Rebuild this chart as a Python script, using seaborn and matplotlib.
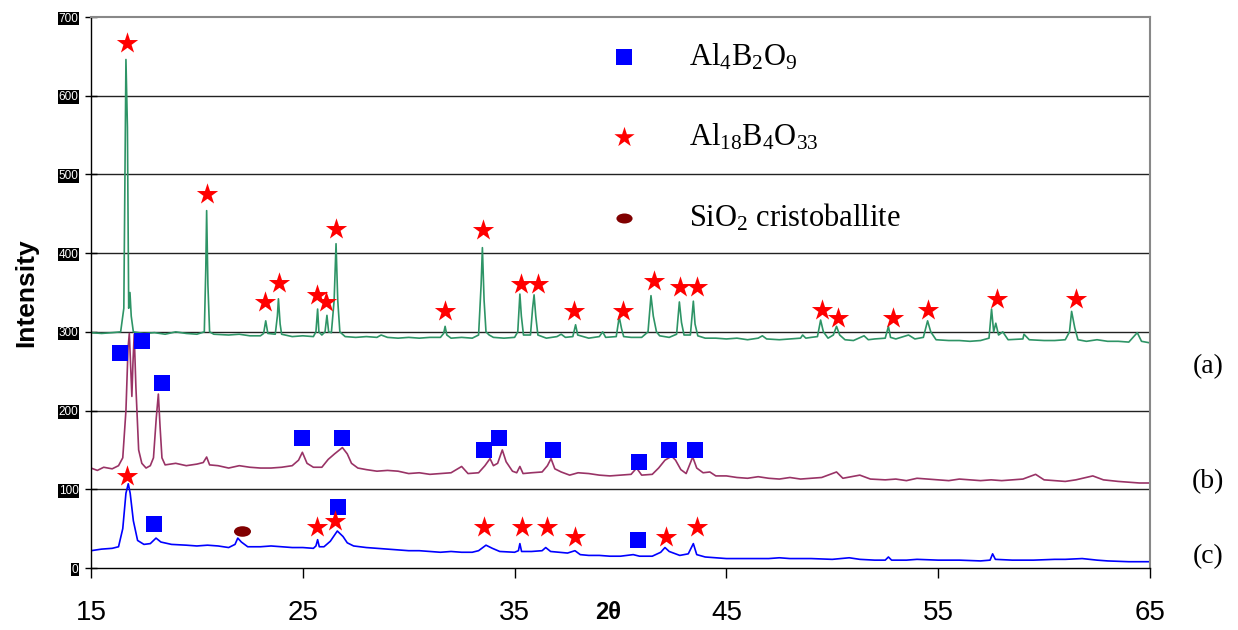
# XRD patterns (a), (b), (c) with phase markers
import matplotlib
matplotlib.use('Agg')
import matplotlib.pyplot as plt
import seaborn as sns
from matplotlib.path import Path
from matplotlib.transforms import Affine2D

sns.set_style('ticks')
plt.rcParams['font.family'] = ['Liberation Sans', 'DejaVu Sans']
plt.rcParams['text.color'] = 'black'
plt.rcParams['xtick.color'] = 'black'
plt.rcParams['ytick.color'] = 'black'
plt.rcParams['mathtext.fontset'] = 'custom'
plt.rcParams['mathtext.rm'] = 'Liberation Serif'
plt.rcParams['mathtext.it'] = 'Liberation Serif:italic'

# ---- trace (a), green ----
a_x = [15.0, 15.5, 16.0, 16.4, 16.55, 16.62, 16.65, 16.72, 16.78, 16.84, 16.9, 17.0, 17.5, 18.0, 18.5, 19.0, 19.5,
       20.0, 20.35, 20.42, 20.46, 20.52, 20.6, 20.8, 21.5, 22.0, 22.5, 23.0, 23.15, 23.25, 23.35, 23.7, 23.8, 23.85,
       23.93, 24.0, 24.5, 25.0, 25.5, 25.62, 25.7, 25.76, 25.9, 26.05, 26.14, 26.22, 26.35, 26.48, 26.57, 26.65, 26.75,
       27.0, 27.5, 28.0, 28.5, 28.7, 29.0, 29.5, 30.0, 30.5, 31.0, 31.5, 31.65, 31.72, 31.8, 32.0, 32.5, 33.0, 33.3,
       33.42, 33.48, 33.56, 33.65, 33.8, 34.0, 34.5, 35.0, 35.15, 35.25, 35.32, 35.42, 35.75, 35.85, 35.92, 36.0, 36.1,
       36.5, 37.0, 37.2, 37.4, 37.75, 37.88, 37.98, 38.5, 39.0, 39.16, 39.3, 39.8, 39.94, 40.05, 40.15, 40.5, 41.0,
       41.3, 41.44, 41.55, 41.7, 41.85, 42.3, 42.65, 42.78, 42.88, 43.0, 43.3, 43.44, 43.52, 43.65, 44.0, 44.5, 45.0,
       45.5, 46.0, 46.5, 46.7, 46.9, 47.5, 48.0, 48.5, 48.6, 48.75, 49.0, 49.3, 49.45, 49.58, 49.8, 50.05, 50.2, 50.35,
       50.6, 51.0, 51.5, 51.7, 52.0, 52.5, 52.65, 52.75, 53.0, 53.6, 53.9, 54.3, 54.5, 54.65, 54.9, 55.5, 56.0, 56.5,
       57.0, 57.4, 57.52, 57.62, 57.72, 57.85, 58.05, 58.3, 59.0, 59.05, 59.3, 60.0, 60.5, 61.0, 61.2, 61.3, 61.45,
       61.6, 62.0, 62.5, 63.0, 63.5, 64.0, 64.4, 64.6, 65.0]
a_y = [299, 298, 299, 300, 330, 560, 646, 560, 330, 350, 320, 300, 298, 299, 297, 300, 298,
       297, 300, 380, 454, 360, 300, 297, 296, 297, 295, 295, 298, 314, 298, 297, 320, 342,
       310, 297, 294, 295, 294, 300, 329, 300, 296, 300, 321, 300, 299, 340, 412, 340, 300,
       294, 293, 294, 293, 296, 293, 292, 293, 292, 293, 293, 298, 307, 296, 292, 293, 292, 296,
       360, 407, 340, 300, 296, 293, 292, 293, 300, 348, 320, 296, 296, 330, 347, 320, 296,
       292, 294, 297, 293, 294, 309, 296, 292, 294, 300, 293, 294, 319, 304, 294, 293, 293,
       300, 346, 320, 300, 295, 293, 297, 338, 312, 296, 296, 339, 310, 295, 292, 292, 291,
       292, 290, 292, 295, 291, 290, 291, 292, 296, 292, 293, 294, 315, 300, 292, 296, 307, 296,
       290, 289, 295, 290, 291, 292, 307, 293, 291, 296, 291, 293, 314, 300, 290, 289, 289, 288,
       289, 292, 329, 300, 311, 296, 300, 290, 291, 297, 290, 289, 289, 290, 300, 326, 305,
       290, 288, 290, 288, 288, 287, 299, 288, 286]

# ---- trace (b), maroon ----
b_x = [15.0, 15.3, 15.6, 16.0, 16.3, 16.5, 16.65, 16.75, 16.81, 16.88, 16.93, 16.98, 17.04, 17.12, 17.25, 17.4,
       17.6, 17.8, 17.95, 18.08, 18.18, 18.26, 18.35, 18.5, 19.0, 19.5, 20.0, 20.3, 20.46, 20.6, 21.0, 21.5, 22.0,
       22.5, 23.0, 23.5, 24.0, 24.5, 24.8, 24.98, 25.2, 25.5, 25.9, 26.2, 26.5, 26.87, 27.1, 27.3, 27.6, 28.0, 28.5,
       29.0, 29.5, 30.0, 30.5, 31.0, 31.5, 32.0, 32.5, 32.8, 33.3, 33.6, 33.84, 34.0, 34.2, 34.42, 34.6, 34.9, 35.1,
       35.25, 35.4, 35.8, 36.3, 36.55, 36.72, 36.9, 37.2, 37.6, 38.0, 38.5, 39.0, 39.5, 40.0, 40.5, 40.76, 41.0,
       41.5, 41.8, 42.1, 42.42, 42.6, 42.85, 43.1, 43.41, 43.6, 43.9, 44.22, 44.5, 45.0, 45.5, 46.0, 46.5, 47.0,
       47.5, 48.0, 48.5, 49.0, 49.5, 50.2, 50.5, 51.3, 51.8, 52.5, 53.0, 53.5, 54.0, 54.5, 55.0, 55.5, 56.0, 56.5,
       57.0, 57.5, 58.0, 58.5, 59.0, 59.6, 60.0, 60.5, 61.0, 61.5, 62.3, 62.8, 63.5, 64.0, 64.5, 65.0]
b_y = [127, 124, 128, 126, 130, 140, 200, 280, 298, 250, 218, 260, 297, 230, 150, 133,
       127, 130, 140, 190, 221, 180, 140, 131, 133, 130, 132, 134, 141, 131, 130, 127, 130,
       128, 127, 127, 128, 130, 137, 147, 133, 128, 128, 138, 145, 153, 145, 133, 127, 125, 123,
       124, 123, 120, 121, 119, 120, 121, 129, 120, 121, 130, 139, 130, 133, 150, 135, 123, 121,
       129, 120, 121, 122, 130, 139, 126, 122, 118, 121, 120, 118, 117, 118, 119, 127, 118,
       119, 127, 137, 142, 137, 125, 120, 141, 127, 121, 122, 117, 117, 115, 114, 116, 114,
       113, 115, 113, 114, 115, 122, 114, 118, 113, 112, 113, 111, 114, 113, 112, 111, 113, 112,
       111, 112, 111, 112, 113, 119, 112, 111, 110, 112, 117, 112, 110, 109, 108, 108]

# ---- trace (c), blue ----
c_x = [15.0, 15.5, 16.0, 16.3, 16.5, 16.65, 16.76, 16.85, 17.0, 17.2, 17.5, 17.8, 18.07, 18.3, 18.8, 19.5, 20.0,
       20.5, 21.0, 21.5, 21.8, 21.93, 22.1, 22.4, 23.0, 23.5, 24.0, 24.5, 25.0, 25.5, 25.62, 25.7, 25.78, 26.0, 26.3,
       26.63, 26.9, 27.1, 27.4, 28.0, 28.5, 29.0, 29.5, 30.0, 30.5, 31.0, 31.5, 32.0, 32.5, 33.0, 33.3, 33.65, 33.95,
       34.3, 35.0, 35.18, 35.25, 35.33, 35.8, 36.3, 36.47, 36.7, 37.5, 37.85, 38.1, 38.5, 39.0, 39.5, 40.0, 40.3,
       40.6, 40.9, 41.5, 41.9, 42.1, 42.3, 42.8, 43.2, 43.44, 43.6, 44.0, 44.5, 45.0, 46.0, 47.0, 47.5, 48.0, 49.0,
       50.0, 50.8, 51.3, 52.0, 52.5, 52.65, 52.8, 53.5, 54.0, 55.0, 56.0, 57.0, 57.45, 57.57, 57.7, 58.5, 59.5,
       60.5, 61.0, 61.8, 62.5, 63.0, 64.0, 65.0]
c_y = [22, 24, 25, 27, 50, 95, 107, 95, 60, 35, 30, 31, 38, 33, 30, 29, 28,
       29, 28, 26, 30, 38, 33, 27, 27, 28, 27, 26, 26, 25, 28, 36, 27, 27, 34,
       47, 40, 32, 28, 26, 25, 24, 23, 22, 22, 21, 20, 21, 20, 20, 22, 29, 25,
       21, 20, 22, 31, 21, 21, 22, 26, 21, 19, 22, 17, 16, 16, 15, 15, 16,
       17, 15, 15, 20, 26, 21, 16, 18, 31, 17, 14, 13, 12, 12, 12, 13, 12, 12,
       11, 13, 11, 10, 10, 14, 10, 10, 11, 10, 10, 9, 10, 18, 11, 10, 10,
       11, 11, 12, 10, 9, 8, 8]

# ---- phase markers ----
star_x = [16.71, 20.46, 23.22, 23.86, 25.66, 26.10, 26.55, 31.71, 33.50, 35.30, 36.10, 37.80, 40.10, 41.58,
          42.81, 43.61, 49.50, 50.25, 52.87, 54.50, 57.76, 61.49,
          16.71, 25.66, 26.52, 33.57, 35.36, 36.54, 37.85, 42.15, 43.60]
star_y = [667, 475, 338, 362, 347, 338, 431, 327, 430, 361, 361, 327, 326, 365,
          357, 357, 328, 318, 318, 328, 342, 342,
          117, 52, 60, 52, 52, 52, 39, 39, 52]
square_x = [16.37, 17.39, 18.34, 24.95, 26.84, 33.57, 34.26, 36.83, 40.89, 42.28, 43.53,
            17.99, 26.65, 40.84]
square_y = [273, 288, 235, 165, 165, 150, 165, 150, 135, 150, 150,
            56, 77, 35]
ellipse_x = [22.12]
ellipse_y = [47]

phase_labels = [r'Al$_4$B$_2$O$_9$', r'Al$_{18}$B$_4$O$_{33}$', r'SiO$_2$ cristoballite']
trace_labels = ['(a)', '(b)', '(c)']
x_ticks = [15, 25, 35, 45, 55, 65]
y_ticks = [0, 100, 200, 300, 400, 500, 600, 700]

fig = plt.figure(figsize=(12.38, 6.3), dpi=100)
ax = fig.add_axes([0.0735, 0.0984, 0.8554, 0.8746])

for yv in y_ticks[1:-1]:
    ax.axhline(yv, color='#222222', lw=1.0, zorder=0)

sns.lineplot(x=a_x, y=a_y, color='#2e9466', lw=1.2, sort=False, estimator=None, ax=ax)
sns.lineplot(x=b_x, y=b_y, color='#993366', lw=1.2, sort=False, estimator=None, ax=ax)
sns.lineplot(x=c_x, y=c_y, color='#0000ff', lw=1.2, sort=False, estimator=None, ax=ax)

ell = Path.unit_circle().transformed(Affine2D().scale(1.0, 0.62))
sns.scatterplot(x=square_x, y=square_y, marker='s', s=140, color='#0000ff', linewidth=0,
                label=phase_labels[0], ax=ax, zorder=5)
sns.scatterplot(x=star_x, y=star_y, marker='*', s=260, color='#ff0000', linewidth=0,
                label=phase_labels[1], ax=ax, zorder=5)
sns.scatterplot(x=ellipse_x, y=ellipse_y, marker=ell, s=150, color='#800000', linewidth=0,
                label=phase_labels[2], ax=ax, zorder=5)

ax.set_xlim(15, 65)
ax.set_ylim(0, 700)
ax.set_xticks(x_ticks)
ax.set_yticks(y_ticks)
ax.tick_params(axis='x', direction='out', length=7, width=1, pad=16, labelsize=20)
ax.tick_params(axis='y', direction='inout', length=8, width=1, pad=5, labelsize=8.5)
for t in ax.get_yticklabels():
    t.set_color('white')
    t.set_bbox(dict(facecolor='black', edgecolor='none', pad=0.6))

for side in ['top', 'right']:
    ax.spines[side].set_color('#888888')
    ax.spines[side].set_linewidth(1.5)
for side in ['left', 'bottom']:
    ax.spines[side].set_color('black')
    ax.spines[side].set_linewidth(1.0)

ax.set_xlabel('')
ax.set_ylabel('')
fig.text(0.491, 0.028, '2θ', fontsize=17, fontweight='bold', ha='center', va='center')
fig.text(0.021, 0.535, 'Intensity', fontsize=19, fontweight='bold', rotation=90,
         ha='center', va='center')

for lab, yy in zip(trace_labels, [367, 482, 557]):
    fig.text(1208 / 1238, 1 - yy / 630, lab, fontsize=20, family='Liberation Serif',
             ha='center', va='center')

leg = ax.legend(loc='upper left', bbox_to_anchor=(0.474, 0.955), frameon=False,
                prop={'family': 'Liberation Serif', 'size': 22}, labelspacing=1.62,
                handlelength=2.0, handletextpad=1.14, borderpad=0, borderaxespad=0,
                markerscale=0.95, labelcolor='black')

fig.savefig('out.png', dpi=100)
